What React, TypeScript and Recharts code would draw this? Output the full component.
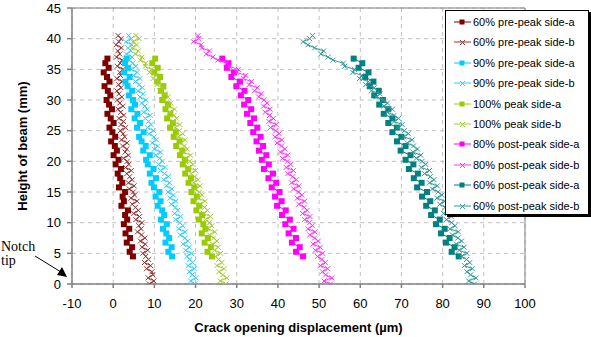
import React from "react";
import {
  ScatterChart,
  Scatter,
  XAxis,
  YAxis,
  CartesianGrid,
  ReferenceLine,
} from "recharts";

// Heights (mm) at which COD was measured
const heightsB = [
  0, 0.5, 1, 1.5, 2, 2.5, 3, 3.5, 4, 4.5, 5, 5.5, 6, 6.5, 7, 7.5, 8, 8.5, 9, 9.5,
  10, 10.5, 11, 11.5, 12, 12.5, 13, 13.5, 14, 14.5, 15, 15.5, 16, 16.5, 17, 17.5,
  18, 18.5, 19, 19.5, 20, 20.5, 21, 21.5, 22, 22.5, 23, 23.5, 24, 24.5, 25, 25.5,
  26, 26.5, 27, 27.5, 28, 28.5, 29, 29.5, 30, 30.5, 31, 31.5, 32, 32.5, 33, 33.5,
  34, 34.5, 35, 35.5, 36, 36.5, 37, 37.5, 38, 38.5, 39, 39.5, 40, 40.5,
];
const heightsA = [
  4.5, 5.25, 6, 6.75, 7.5, 8.25, 9, 9.75, 10.5, 11.25, 12, 12.75, 13.5, 14.25, 15,
  15.75, 16.5, 17.25, 18, 18.75, 19.5, 20.25, 21, 21.75, 22.5, 23.25, 24, 24.75,
  25.5, 26.25, 27, 27.75, 28.5, 29.25, 30, 30.75, 31.5, 32.25, 33, 33.75, 34.5,
  35.25, 36, 36.75,
];

// COD values (µm)
const pre60a = [
  4.8, 4.0, 4.6, 3.3, 4.1, 3.0, 3.9, 2.6, 3.4, 2.9, 3.6, 2.0, 2.6, 2.3, 2.9, 1.4,
  2.2, 1.7, 1.1, 1.9, 0.6, 1.3, 0.1, 0.9, 0.4, -0.5, 0.5, -0.2, -0.9, 0.1, -0.6,
  -1.4, -0.3, -1.0, -1.6, -0.7, -1.3, -2.1, -0.9, -1.5, -2.3, -1.1, -1.9, -1.4,
];
const pre60b = [
  8.8, 9.9, 8.5, 9.6, 9.4, 8.1, 9.1, 7.6, 8.6, 7.9, 7.2, 8.4, 7.0, 7.8, 6.6, 7.7,
  6.9, 5.9, 6.8, 6.2, 7.0, 5.5, 6.4, 5.0, 6.1, 5.4, 4.6, 5.8, 4.3, 5.2, 4.9, 3.9,
  5.1, 3.7, 4.6, 4.0, 3.3, 4.4, 3.0, 3.8, 3.4, 2.5, 3.7, 2.9, 3.3, 2.3, 3.4, 2.0,
  2.8, 2.4, 1.7, 3.0, 1.9, 2.5, 1.4, 2.6, 1.8, 1.2, 2.4, 1.6, 1.0, 2.1, 1.4, 0.9,
  1.9, 1.3, 2.2, 0.9, 1.8, 1.6, 2.4, 1.0, 1.7, 2.2, 0.8, 1.6, 1.1, 2.0, 0.7, 1.4,
  1.9, 1.2,
];
const pre90a = [
  14.3, 13.4, 14.2, 12.7, 13.6, 12.9, 12.1, 13.0, 11.6, 12.4, 11.9, 10.8, 11.5,
  10.3, 11.2, 9.9, 9.3, 10.4, 8.9, 9.8, 8.4, 8.0, 8.9, 7.3, 7.9, 6.9, 6.3, 7.4,
  5.8, 6.5, 5.2, 5.9, 4.4, 5.3, 4.8, 3.8, 4.6, 3.5, 3.0, 4.0, 2.7, 3.6, 2.9, 3.3,
];
const pre90b = [
  19.8, 18.8, 20.1, 19.2, 18.5, 19.7, 18.2, 19.3, 18.6, 17.9, 19.0, 17.6, 18.5,
  17.0, 18.1, 17.4, 16.3, 17.5, 15.9, 16.9, 16.2, 15.2, 16.4, 14.9, 15.7, 15.1,
  14.1, 15.2, 13.8, 14.6, 13.3, 14.3, 12.9, 13.7, 12.2, 13.4, 12.5, 11.5, 12.6,
  11.0, 11.9, 11.3, 10.3, 11.5, 10.0, 10.8, 9.5, 10.5, 9.9, 8.7, 9.8, 8.3, 9.2,
  8.6, 7.8, 9.0, 7.4, 8.3, 7.7, 6.9, 7.9, 6.5, 7.3, 6.0, 7.1, 6.3, 5.4, 6.5, 5.0,
  5.8, 4.4, 5.5, 4.7, 3.9, 4.6, 3.2, 4.3, 3.6, 4.5, 3.1, 4.4, 3.8,
];
const peak100a = [
  24.0, 22.9, 23.7, 22.2, 23.0, 21.5, 22.4, 21.9, 20.8, 21.6, 20.2, 20.9, 19.5,
  20.3, 19.0, 19.7, 18.3, 18.9, 17.5, 18.2, 16.9, 17.4, 16.2, 16.8, 15.3, 16.1,
  14.7, 15.2, 13.8, 14.5, 13.1, 13.9, 12.7, 13.3, 11.9, 12.5, 11.6, 12.2, 10.7,
  11.4, 10.0, 10.8, 9.5, 10.2,
];
const peak100b = [
  27.4, 26.0, 27.6, 26.6, 25.7, 26.9, 25.2, 26.4, 25.6, 24.9, 26.1, 24.6, 25.5,
  24.1, 25.2, 24.4, 23.4, 24.7, 23.0, 24.0, 23.4, 22.4, 23.6, 21.9, 22.9, 22.2,
  21.1, 22.3, 20.7, 21.6, 20.9, 19.9, 21.1, 19.5, 20.6, 19.8, 18.9, 20.0, 18.3,
  19.4, 18.6, 17.6, 18.8, 17.1, 18.0, 17.3, 16.3, 17.5, 15.8, 16.9, 16.1, 15.0,
  16.2, 14.5, 15.4, 14.8, 13.7, 14.9, 13.2, 14.0, 12.4, 13.3, 12.6, 11.3, 12.2,
  10.6, 11.3, 9.7, 10.4, 8.8, 9.3, 7.8, 7.9, 6.6, 7.0, 5.4, 6.1, 4.6, 5.7, 4.8,
  6.3, 5.5,
];
const post80a = [
  46.1, 44.4, 45.3, 43.4, 44.4, 42.6, 43.8, 41.8, 42.9, 41.0, 41.9, 39.8, 40.9,
  39.3, 40.4, 38.5, 39.6, 37.7, 38.8, 36.6, 37.8, 36.1, 37.2, 35.4, 36.4, 34.8,
  35.8, 34.0, 35.0, 33.3, 34.2, 32.5, 33.5, 31.8, 32.8, 31.0, 31.9, 29.9, 30.8,
  28.7, 29.3, 27.6, 28.0, 26.5,
];
const post80b = [
  52.8, 51.2, 53.1, 51.6, 50.8, 52.1, 50.3, 51.5, 50.7, 49.6, 50.9, 49.1, 50.3,
  48.5, 49.8, 48.9, 47.7, 49.0, 47.3, 48.4, 47.7, 46.5, 47.8, 46.0, 47.1, 46.4,
  45.1, 46.5, 44.7, 45.8, 45.0, 43.8, 45.1, 43.3, 44.5, 43.6, 42.4, 43.8, 42.0,
  43.1, 42.3, 41.1, 42.4, 40.6, 41.7, 40.9, 39.8, 41.0, 39.3, 40.3, 39.5, 38.2,
  39.6, 37.8, 38.9, 38.0, 36.9, 38.1, 36.5, 37.4, 36.6, 35.3, 36.0, 34.3, 35.0,
  33.0, 33.6, 31.6, 32.2, 30.0, 30.4, 28.2, 27.5, 25.4, 24.2, 22.6, 23.4, 21.5,
  21.4, 19.5, 20.7, 20.6,
];
const post60a = [
  83.9, 82.2, 82.9, 80.8, 81.7, 79.6, 80.5, 78.4, 79.3, 77.2, 78.1, 76.0, 77.0,
  75.0, 76.2, 73.8, 74.9, 73.0, 74.0, 71.8, 72.9, 71.0, 72.2, 69.8, 71.0, 68.9,
  70.0, 67.8, 68.9, 66.8, 67.8, 65.7, 66.8, 64.6, 65.5, 63.4, 64.5, 62.3, 63.2,
  61.2, 62.0, 59.6, 60.5, 58.4,
];
const post60b = [
  87.7, 86.3, 88.1, 86.8, 85.9, 87.2, 85.3, 86.6, 85.8, 84.6, 85.9, 84.0, 85.2,
  83.3, 84.6, 83.7, 82.4, 83.8, 81.8, 83.0, 82.2, 80.9, 82.1, 80.2, 81.4, 80.6,
  79.3, 80.5, 78.6, 79.8, 78.9, 77.5, 78.7, 76.8, 77.9, 77.0, 75.6, 76.8, 74.8,
  75.9, 75.0, 73.6, 74.7, 72.8, 73.9, 72.9, 71.4, 72.6, 70.6, 71.7, 70.7, 69.1,
  70.2, 68.2, 69.3, 68.2, 66.6, 67.8, 65.8, 66.6, 65.6, 63.9, 64.8, 62.7, 63.4,
  61.3, 62.0, 59.8, 60.4, 58.2, 58.6, 56.2, 55.9, 53.4, 52.2, 50.4, 51.1, 48.9,
  47.3, 46.1, 47.7, 48.4,
];

const xTicks = [-10, 0, 10, 20, 30, 40, 50, 60, 70, 80, 90, 100];
const yTicks = [0, 5, 10, 15, 20, 25, 30, 35, 40, 45];

const seriesNames = [
  "60% pre-peak side-a",
  "60% pre-peak side-b",
  "90% pre-peak side-a",
  "90% pre-peak side-b",
  "100% peak side-a",
  "100% peak side-b",
  "80% post-peak side-a",
  "80% post-peak side-b",
  "60% post-peak side-a",
  "60% post-peak side-b",
];
const seriesValues = [pre60a, pre60b, pre90a, pre90b, peak100a, peak100b, post80a, post80b, post60a, post60b];
const seriesColors = [
  "#800000", "#993333", "#00CCFF", "#33CCFF", "#99CC00",
  "#A6CC33", "#FF00FF", "#FF33FF", "#008080", "#339999",
];
const seriesMarker = ["square", "cross", "square", "cross", "square", "cross", "square", "cross", "square", "cross"];

const FONT = "'Liberation Sans', Arial, sans-serif";

const makeShape = (kind: string, color: string) => (props: any) => {
  const { cx, cy } = props;
  if (cx == null || cy == null) return <g />;
  if (kind === "square") {
    return <rect x={cx - 3} y={cy - 3} width={6} height={6} fill={color} />;
  }
  const r = 2.5;
  return (
    <path
      d={`M${cx - r},${cy - r}L${cx + r},${cy + r}M${cx - r},${cy + r}L${cx + r},${cy - r}`}
      stroke={color}
      strokeWidth={1}
      fill="none"
    />
  );
};

const LegendBox = () => (
  <div
    style={{
      position: "absolute",
      left: 445,
      top: 10,
      width: 142,
      height: 203,
      background: "#fff",
      border: "1px solid #000",
      boxShadow: "2px 2px 0 #000",
      fontFamily: FONT,
      fontSize: 11,
      color: "#000",
    }}
  >
    {seriesNames.map((name, i) => (
      <div
        key={name}
        style={{
          position: "absolute",
          left: 7,
          top: 3 + i * 20.4,
          height: 16,
          display: "flex",
          alignItems: "center",
          whiteSpace: "nowrap",
        }}
      >
        <svg width={19} height={16} style={{ display: "block" }}>
          <line x1={1} y1={8} x2={18} y2={8} stroke={seriesColors[i]} strokeWidth={1} />
          {seriesMarker[i] === "square" ? (
            <rect x={6.5} y={5.5} width={5} height={5} fill={seriesColors[i]} />
          ) : (
            <path d="M7,6L12,11M7,11L12,6" stroke={seriesColors[i]} strokeWidth={1} />
          )}
        </svg>
        <span style={{ marginLeft: 1 }}>{name}</span>
      </div>
    ))}
  </div>
);

export default function App() {
  return (
    <div style={{ position: "absolute", left: 0, top: 0, width: 591, height: 337, background: "#fff" }}>
      <ScatterChart width={591} height={337} margin={{ top: 8, right: 66, bottom: 23, left: 0 }}>
        <CartesianGrid stroke="#C0C0C0" strokeDasharray="4 4" />
        <XAxis
          type="number"
          dataKey="x"
          domain={[-10, 100]}
          ticks={xTicks}
          height={30}
          stroke="#808080"
          strokeWidth={1.5}
          tickSize={4}
          tickMargin={11}
          tick={{ fill: "#000", fontSize: 13, fontFamily: FONT }}
          allowDataOverflow
        />
        <YAxis
          type="number"
          dataKey="y"
          domain={[0, 45]}
          ticks={yTicks}
          width={72}
          stroke="#808080"
          strokeWidth={1.5}
          tickSize={5}
          tickMargin={6}
          tick={{ fill: "#000", fontSize: 13, fontFamily: FONT }}
          allowDataOverflow
        />
        <ReferenceLine y={45} stroke="#808080" strokeWidth={1} />
        <ReferenceLine x={100} stroke="#808080" strokeWidth={1} />
        {seriesValues.map((vals, i) => {
          const hs = seriesMarker[i] === "square" ? heightsA : heightsB;
          const data = hs.map((h, j) => ({ x: vals[j], y: h }));
          return (
            <Scatter
              key={seriesNames[i]}
              name={seriesNames[i]}
              data={data}
              fill={seriesColors[i]}
              line={{ stroke: seriesColors[i], strokeWidth: 1 }}
              lineType="joint"
              shape={makeShape(seriesMarker[i], seriesColors[i])}
              isAnimationActive={false}
            />
          );
        })}
      </ScatterChart>
      <svg
        width={591}
        height={337}
        style={{ position: "absolute", left: 0, top: 0, pointerEvents: "none" }}
      >
        <text
          x={298.5}
          y={332}
          textAnchor="middle"
          fontFamily={FONT}
          fontWeight="bold"
          fontSize={13}
          fill="#000"
        >
          Crack opening displacement (µm)
        </text>
        <text
          transform="translate(27,146) rotate(-90)"
          textAnchor="middle"
          fontFamily={FONT}
          fontWeight="bold"
          fontSize={13}
          fill="#000"
        >
          Height of beam (mm)
        </text>
        <text x={1} y={251} fontFamily="'Liberation Serif', 'Times New Roman', serif" fontSize={14} fill="#000">
          Notch
        </text>
        <text x={1} y={265} fontFamily="'Liberation Serif', 'Times New Roman', serif" fontSize={14} fill="#000">
          tip
        </text>
        <line x1={35} y1={256} x2={61} y2={272} stroke="#000" strokeWidth={1} />
        <polygon points="67,277 57,275 62,267" fill="#000" />
      </svg>
      <LegendBox />
    </div>
  );
}
